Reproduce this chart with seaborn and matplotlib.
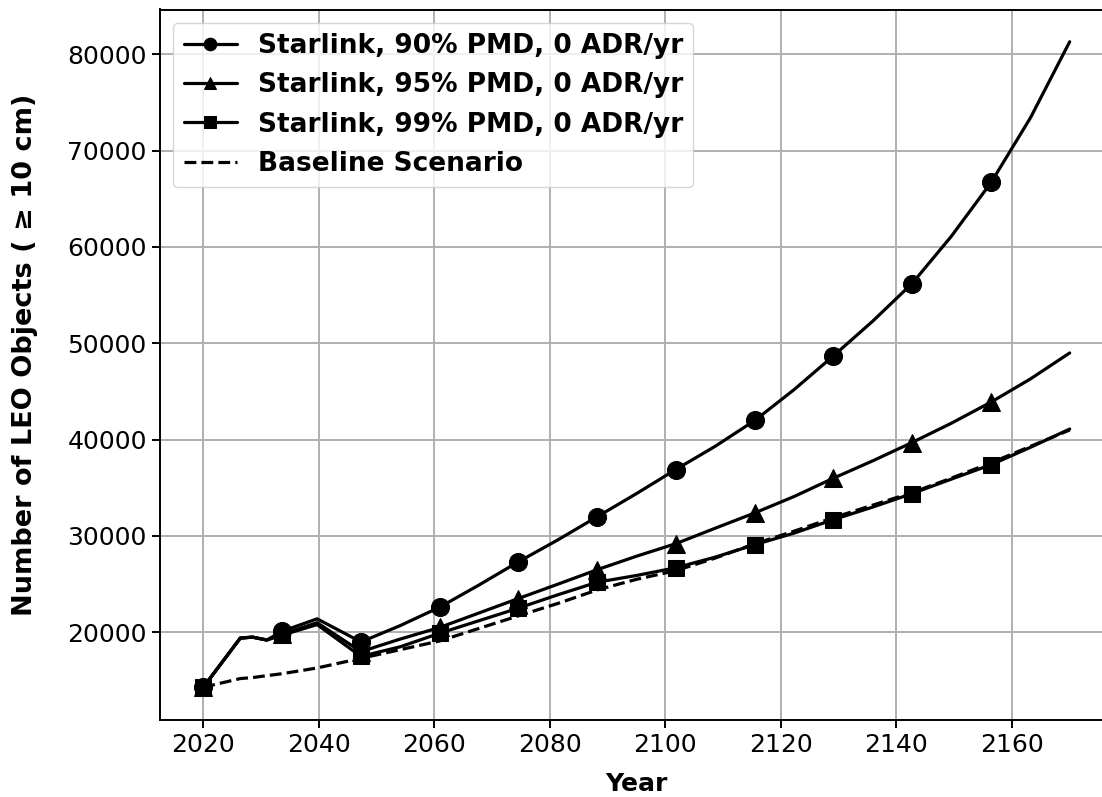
import matplotlib
matplotlib.use("Agg")
import matplotlib.pyplot as plt
import seaborn as sns
import pandas as pd

# ---- data ----
years = [2020, 2026.4, 2028.5, 2031, 2033.6, 2039.7, 2047.3, 2054.1, 2060.9,
         2067.7, 2074.5, 2081.4, 2088.2, 2095.0, 2101.8, 2108.6, 2115.5,
         2122.3, 2129.1, 2135.9, 2142.7, 2149.5, 2156.4, 2163.2, 2170]

pmd90 = [14300, 19400, 19500, 19200, 20100, 21400, 19000, 20700, 22600,
         24900, 27300, 29600, 32000, 34400, 36900, 39300, 42000,
         45200, 48700, 52300, 56200, 61100, 66700, 73400, 81300]
pmd95 = [14300, 19400, 19500, 19200, 19800, 21000, 18000, 19300, 20500,
         22000, 23500, 25000, 26500, 27900, 29200, 30800, 32400,
         34100, 36000, 37800, 39700, 41700, 43900, 46300, 49000]
pmd99 = [14300, 19400, 19500, 19200, 19700, 20800, 17500, 18500, 19900,
         21200, 22500, 23900, 25200, 25900, 26700, 27800, 29100,
         30300, 31700, 33000, 34400, 35900, 37400, 39200, 41100]
baseline = [14300, 15200, 15300, 15500, 15700, 16300, 17300, 18200, 19100,
            20400, 21700, 23000, 24400, 25500, 26400, 27700, 29200,
            30500, 31900, 33200, 34500, 36000, 37600, 39300, 41000]

labels = ["Starlink, 90% PMD, 0 ADR/yr",
          "Starlink, 95% PMD, 0 ADR/yr",
          "Starlink, 99% PMD, 0 ADR/yr",
          "Baseline Scenario"]
xticks = [2020, 2040, 2060, 2080, 2100, 2120, 2140, 2160]
yticks = [20000, 30000, 40000, 50000, 60000, 70000, 80000]

# ---- style ----
sns.set_style("ticks")
plt.rcParams["font.family"] = ["DejaVu Sans"]
plt.rcParams["text.color"] = "black"
plt.rcParams["axes.labelcolor"] = "black"
plt.rcParams["xtick.color"] = "black"
plt.rcParams["ytick.color"] = "black"

fig = plt.figure(figsize=(11.02, 7.97), dpi=100)
ax = fig.add_axes([160 / 1102, 1 - 719.5 / 797, 953 / 1102, 710 / 797])

df = pd.DataFrame({"Year": years, "p90": pmd90, "p95": pmd95,
                   "p99": pmd99, "base": baseline})
mark_idx = [0, 4, 6, 8, 10, 12, 14, 16, 18, 20, 22]

common = dict(color="black", linewidth=2.3, ax=ax, markeredgecolor="black")
sns.lineplot(data=df, x="Year", y="p90", marker="o", markersize=13,
             markevery=mark_idx, label=labels[0], **common)
sns.lineplot(data=df, x="Year", y="p95", marker="^", markersize=13,
             markevery=mark_idx, label=labels[1], **common)
sns.lineplot(data=df, x="Year", y="p99", marker="s", markersize=12,
             markevery=mark_idx, label=labels[2], **common)
sns.lineplot(data=df, x="Year", y="base", linestyle="--", label=labels[3],
             color="black", linewidth=2.3, ax=ax)

ax.set_xticks(xticks)
ax.set_yticks(yticks)
ax.grid(True, color="#b0b0b0", linewidth=1.4)
ax.set_axisbelow(True)
for s in ax.spines.values():
    s.set_color("black")
    s.set_linewidth(1.4)
ax.tick_params(axis="both", labelsize=18, length=6, width=1.4,
               color="black", labelcolor="black")
ax.set_xlabel("Year", fontsize=18, fontweight="bold", labelpad=11,
              color="black")
ax.set_ylabel("Number of LEO Objects ( \u2265 10 cm)", fontsize=19.5,
              fontweight="bold", color="black")
ax.yaxis.set_label_coords(-0.128, 0.513)

leg = ax.legend(loc="upper left", prop={"weight": "bold", "size": 19},
                frameon=True, framealpha=0.8, edgecolor="#cccccc",
                fancybox=True, markerscale=0.7)
for t in leg.get_texts():
    t.set_color("black")

fig.savefig("out.png", dpi=100)
